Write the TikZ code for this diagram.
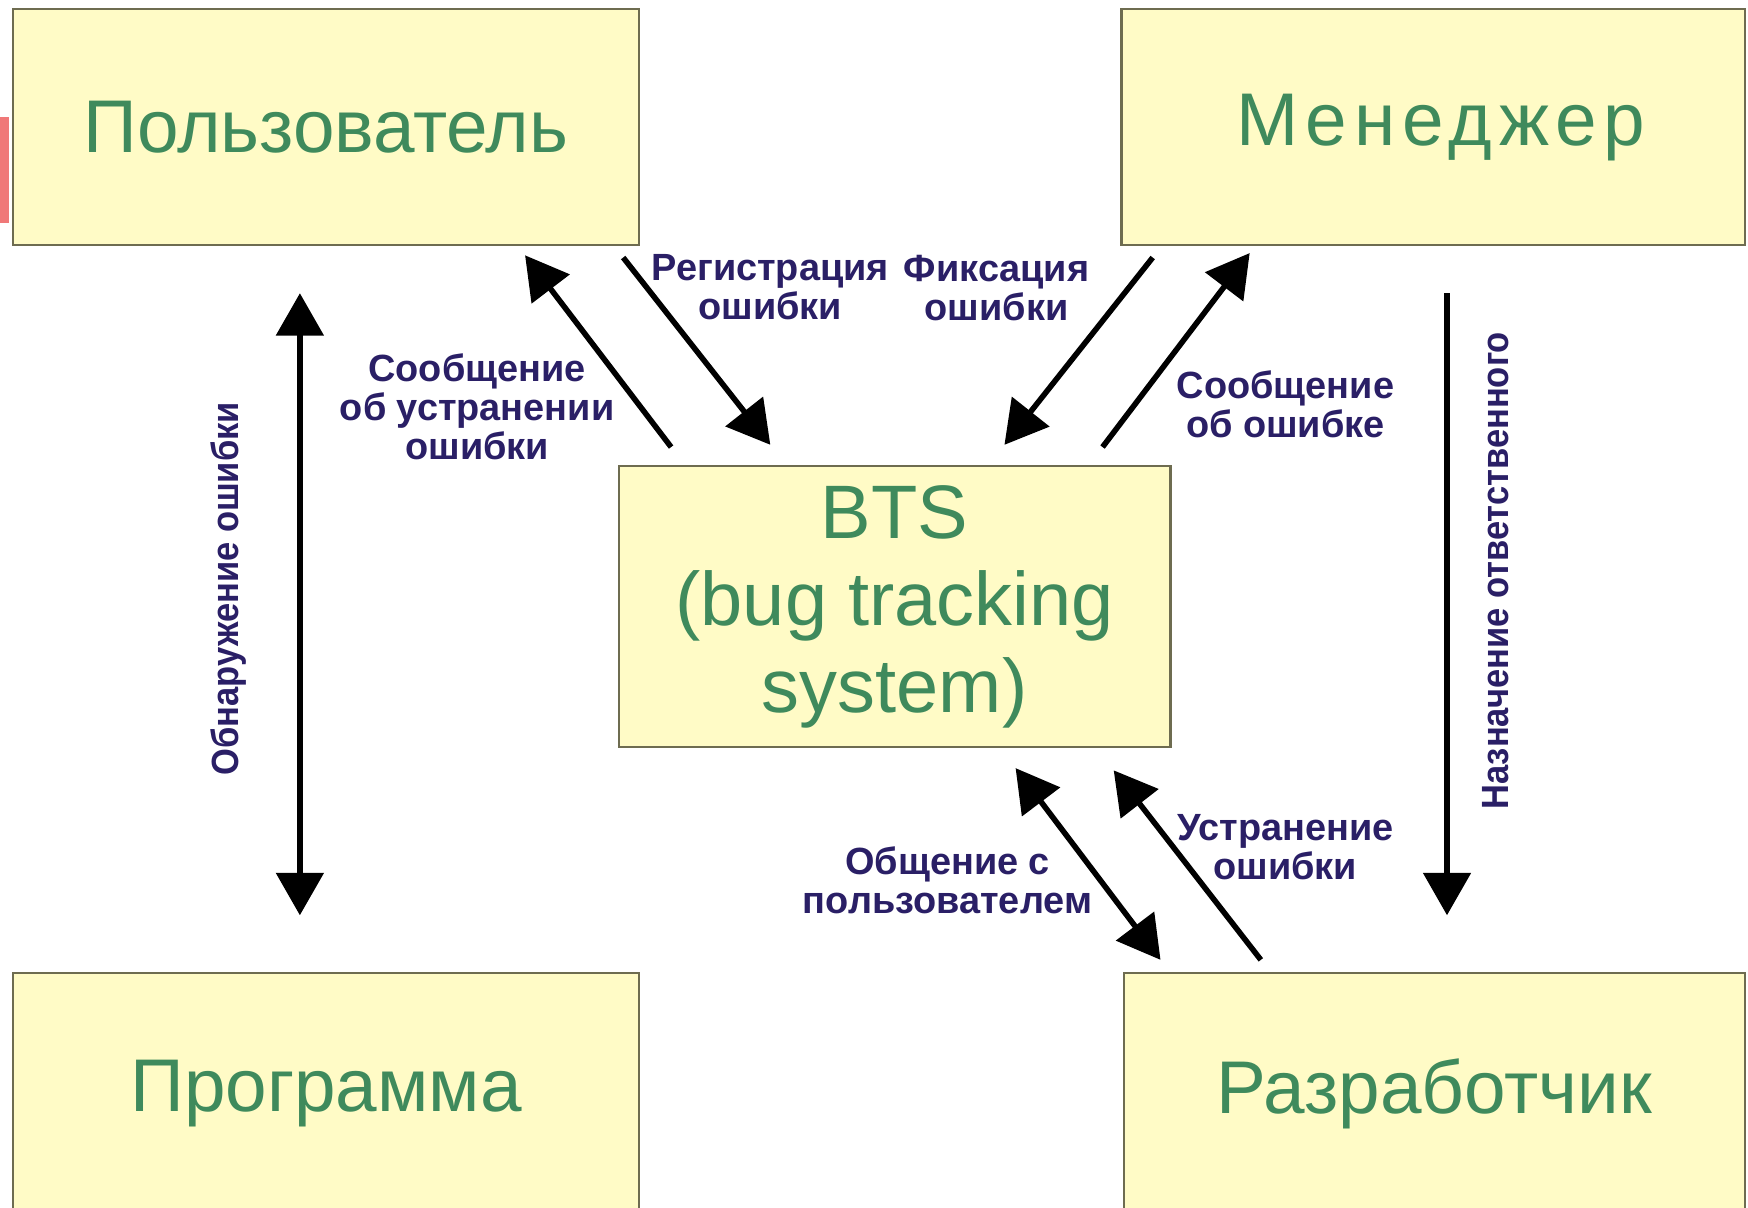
\documentclass[tikz,border=0pt]{standalone}
\usepackage{fontspec}
\usepackage{graphicx}
\setmainfont{Liberation Sans}
\newfontfamily\mgrfont[LetterSpace=9]{Liberation Sans}
\usetikzlibrary{arrows.meta,calc}
\definecolor{boxfill}{HTML}{FFFBC6}
\definecolor{boxline}{HTML}{6E6C50}
\definecolor{boxtext}{HTML}{3F8A5C}
\definecolor{lbl}{HTML}{2A1F66}
\definecolor{redmark}{HTML}{F07878}
\begin{document}
\begin{tikzpicture}[x=0.5pt,y=-0.5pt,
  box/.style={draw=boxline, line width=1pt, fill=boxfill, text=boxtext, inner sep=0pt,
    font=\fontsize{33.5}{39}\selectfont, align=center},
  arr/.style={line width=2.5pt, -{Triangle[length=19pt,width=21pt]}},
  darr/.style={line width=2.5pt, {Triangle[length=19pt,width=21pt]}-{Triangle[length=19pt,width=21pt]}},
  lab/.style={text=lbl, font=\fontsize{17}{17.5}\selectfont\bfseries, align=center, inner sep=0pt}]
\fill[white] (0,0) rectangle (1568,1083);
\clip (0,0) rectangle (1568,1083);
\fill[redmark] (0,105) rectangle (8,200);
% boxes
\node[box, minimum width=280.5pt, minimum height=106pt] (user) at (292.5,114) {\raisebox{-2pt}{Пользователь}};
\node[box, minimum width=279.5pt, minimum height=106pt, font=\fontsize{33.5}{39}\mgrfont] (mgr) at (1285.5,114) {\hspace{7pt}Менеджер};
\node[box, minimum width=247.5pt, minimum height=126pt, font=\fontsize{34}{39}\selectfont] (bts) at (802.5,544) {BTS\\(bug tracking\\system)};
\node[box, minimum width=280.5pt, minimum height=108pt] (prog) at (292.5,981) {\raisebox{3pt}{Программа}};
\node[box, minimum width=278.5pt, minimum height=108pt] (dev) at (1286.5,981) {\raisebox{3pt}{Разработчик}};
% arrows
\draw[arr] ($(bts.north west)+(48,-16)$) -- ($(user.south east)+(-103,8)$);
\draw[arr] ($(user.south east)+(-15,10)$) -- ($(bts.north west)+(137,-18)$);
\draw[arr] ($(mgr.south west)+(29,10)$) -- ($(bts.north west)+(347,-18)$);
\draw[arr] ($(bts.north east)+(-62,-16)$) -- ($(mgr.south west)+(116,6)$);
\draw[darr] ($(bts.south west)+(357,18)$) -- ($(dev.north west)+(34,-11)$);
\draw[arr] ($(dev.north west)+(124,-11)$) -- ($(bts.south west)+(445,20)$);
\draw[darr] ($(user.south west)+(258,42)$) -- ($(prog.north west)+(258,-51)$);
\draw[arr] ($(mgr.south east)+(-268,42)$) -- ($(dev.north east)+(-268,-51)$);
% labels
\node[lab] (lreg) at (691,258) {Регистрация\\ошибки};
\node[lab] (lfix) at (894,258) {Фиксация\\ошибки};
\node[lab] (lsu) at (428,365) {Сообщение\\об устранении\\ошибки};
\node[lab] (lso) at (1153,363) {Сообщение\\об ошибке};
\node[lab] (lus) at (1153,760) {Устранение\\ошибки};
\node[lab] (lob) at (850,790) {Общение с\\пользователем};
\node[lab, rotate=90] (lobn) at (205,528) {\scalebox{0.91}[1]{Обнаружение ошибки}};
\node[lab, rotate=90] (lnaz) at (1342,512) {\scalebox{0.91}[1]{Назначение ответственного}};
\end{tikzpicture}
\end{document}
